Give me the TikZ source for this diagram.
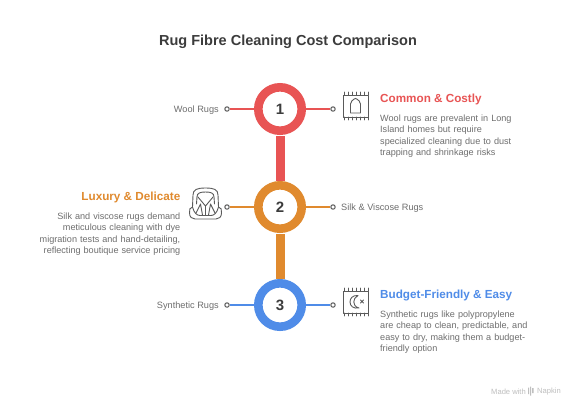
\documentclass[tikz,border=0pt]{standalone}
\usepackage{fontspec}
\setmainfont{Liberation Sans}
\definecolor{cred}{HTML}{E85454}
\definecolor{corange}{HTML}{E08A2E}
\definecolor{cblue}{HTML}{4F8CE8}
\definecolor{ctext}{HTML}{6E6E6E}
\definecolor{cdark}{HTML}{3C3C3C}
\definecolor{cicon}{HTML}{5A5A5A}
\tikzset{
 ring/.style={circle,draw=#1,line width=8.6pt,minimum size=43.4pt,inner sep=0pt,fill=white,text=cdark,font=\fontsize{15}{15}\selectfont\bfseries},
 bar/.style={draw=none,fill=#1,minimum width=9pt,minimum height=44.5pt,inner sep=0pt},
 dot/.style={circle,draw=cicon,line width=1pt,fill=white,minimum size=4.4pt,inner sep=0pt},
 linkline/.style={draw=#1,line width=1.3pt},
 lab/.style={font=\fontsize{9.2}{11}\selectfont,text=ctext,inner sep=0pt},
 head/.style={font=\fontsize{11.7}{14}\selectfont\bfseries,text=#1,inner sep=0pt},
 body/.style={font=\fontsize{9.1}{11.4}\selectfont,text=ctext,inner sep=0pt,text width=160pt},
 ic/.style={draw=cicon,line width=0.9pt,line cap=round,line join=round},
}
\begin{document}
\begin{tikzpicture}[x=1pt,y=-1pt]
\useasboundingbox[fill=white] (0,0) rectangle (575,408);
\node[font=\fontsize{14.5}{16}\selectfont\bfseries,text=cdark,inner sep=0pt] (title) at (288,42) {Rug Fibre Cleaning Cost Comparison};
% bars
\node[bar=cred] (b1) at (280,158.3) {};
\node[bar=corange] (b2) at (280,256.5) {};
% dots
\node[dot] (dl1) at (227,109) {};
\node[dot] (dr1) at (333,109) {};
\node[dot] (dl2) at (227,207) {};
\node[dot] (dr2) at (333,207) {};
\node[dot] (dl3) at (227,305) {};
\node[dot] (dr3) at (333,305) {};
% rings
\node[ring=cred] (c1) at (280,109) {1};
\node[ring=corange] (c2) at (280,207) {2};
\node[ring=cblue] (c3) at (280,305) {3};
% side labels
\node[lab,anchor=east] (t1) at (219,110) {Wool Rugs};
\node[lab,anchor=west] (t2) at (341,208) {Silk \& Viscose Rugs};
\node[lab,anchor=east] (t3) at (219,306) {Synthetic Rugs};
% headings
\node[head=cred,anchor=west] (h1) at (380,99) {Common \& Costly};
\node[head=corange,anchor=east] (h2) at (180.5,197.5) {Luxury \& Delicate};
\node[head=cblue,anchor=west] (h3) at (380,295.5) {Budget-Friendly \& Easy};
% bodies
\node[body,anchor=north west,align=left] (d1) at (380,114.5) {Wool rugs are prevalent in Long\\Island homes but require\\specialized cleaning due to dust\\trapping and shrinkage risks};
\node[body,anchor=north east,align=right] (d2) at (180.5,212.5) {Silk and viscose rugs demand\\meticulous cleaning with dye\\migration tests and hand-detailing,\\reflecting boutique service pricing};
\node[body,anchor=north west,align=left] (d3) at (380,310.5) {Synthetic rugs like polypropylene\\are cheap to clean, predictable, and\\easy to dry, making them a budget-\\friendly option};
% icon 1: rug with arch
\draw[ic] (343.5,95) rectangle (368,117);
\foreach \x in {344,348,352,356,360,364,368}{
 \draw[ic,line width=0.7pt] (\x,92) -- (\x,95);
 \draw[ic,line width=0.7pt] (\x,117) -- (\x,120);}
\draw[ic] (350.5,113) -- (350.5,104) .. controls (350.5,101) and (353,100.5) .. (353.5,99.5) .. controls (354.5,98) and (356.5,98) .. (357.5,99.5) .. controls (358,100.5) and (360.5,101) .. (360.5,104) -- (360.5,113) -- cycle;
% icon 2: seat
\draw[ic] (192.5,207) -- (193,195) .. controls (193,189.5) and (197,188) .. (205.5,188) .. controls (214,188) and (218,189.5) .. (218,195) -- (218.5,207);
\draw[ic] (192.5,207) .. controls (189.5,207) and (189.5,210) .. (189.5,213) .. controls (189.5,217) and (192,219) .. (195,219) -- (216,219) .. controls (219,219) and (221.5,217) .. (221.5,213) .. controls (221.5,210) and (221.5,207) .. (218.5,207);
\draw[ic] (192.5,207) .. controls (194,213) and (197,215.5) .. (200,215.5) -- (211,215.5) .. controls (214,215.5) and (217,213) .. (218.5,207);
\draw[ic] (197,197) .. controls (197,193) and (200,192) .. (205.5,192) .. controls (211,192) and (214,193) .. (214,197) -- (214.5,204);
\draw[ic] (197,197) -- (196.5,204);
\draw[ic] (198,197) -- (205.5,206) -- (213,197);
\draw[ic] (205.5,206) -- (205.5,215.5);
\draw[ic] (196,213) -- (200.5,204) -- (202.5,215);
\draw[ic] (215,213) -- (210.5,204) -- (208.5,215);
% icon 3: rug with moon
\draw[ic] (343.5,291) rectangle (368,313);
\foreach \x in {344,348,352,356,360,364,368}{
 \draw[ic,line width=0.7pt] (\x,288) -- (\x,291);
 \draw[ic,line width=0.7pt] (\x,313) -- (\x,316);}
\draw[ic] (358,295.5) .. controls (352.5,295) and (350,298.5) .. (350,302) .. controls (350,306) and (353.5,309) .. (359,308) .. controls (355,307) and (353.8,304.5) .. (353.8,302) .. controls (353.8,299.5) and (355,297) .. (358,295.5) -- cycle;
\draw[ic,line width=0.8pt] (360.5,300) -- (363.5,303) (363.5,300) -- (360.5,303);
% footer
\node[font=\fontsize{7.6}{9}\selectfont,text=black!25,inner sep=0pt,anchor=west] (f1) at (491,391.5) {Made with};
\node[font=\fontsize{7.6}{9}\selectfont,text=black!25,inner sep=0pt,anchor=west] (f2) at (537,391.5) {Napkin};
\fill[black!25] (528,387.5) rectangle (529,394) (530,386.5) rectangle (531,395.5) (532,388) rectangle (533.5,393);
% connectors, on top of everything
\draw[linkline=cred] (dl1) -- (c1);
\draw[linkline=cred] (c1) -- (dr1);
\draw[linkline=corange] (dl2) -- (c2);
\draw[linkline=corange] (c2) -- (dr2);
\draw[linkline=cblue] (dl3) -- (c3);
\draw[linkline=cblue] (c3) -- (dr3);
\end{tikzpicture}
\end{document}
